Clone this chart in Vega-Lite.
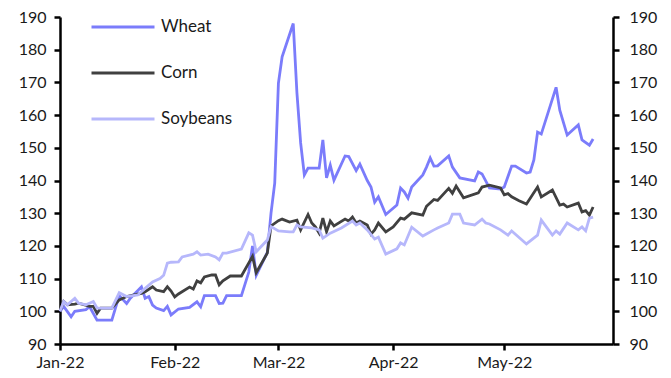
{
  "$schema": "https://vega.github.io/schema/vega-lite/v6.json",
  "width": 553,
  "height": 327,
  "autosize": {"type": "none"},
  "padding": {"left": 60, "top": 17, "right": 58, "bottom": 34},
  "background": "white",
  "view": {"stroke": null},
  "config": {
    "font": "Lato",
    "axis": {"labelFont": "Lato", "labelFontSize": 16, "labelColor": "#1a1a1a", "domainColor": "#000000", "domainWidth": 2.5, "tickColor": "#000000", "tickWidth": 2.5, "grid": false, "title": null}
  },
  "data": {"values": [
    {"d":"2022-01-01","s":"Wheat","v":100},{"d":"2022-01-02","s":"Wheat","v":101.5},{"d":"2022-01-04","s":"Wheat","v":98.3},{"d":"2022-01-05","s":"Wheat","v":100},{"d":"2022-01-08","s":"Wheat","v":100.5},{"d":"2022-01-09","s":"Wheat","v":101.4},{"d":"2022-01-11","s":"Wheat","v":97.3},{"d":"2022-01-15","s":"Wheat","v":97.3},{"d":"2022-01-17","s":"Wheat","v":104.8},{"d":"2022-01-19","s":"Wheat","v":102.4},{"d":"2022-01-20","s":"Wheat","v":104},{"d":"2022-01-23","s":"Wheat","v":107.5},{"d":"2022-01-24","s":"Wheat","v":104},{"d":"2022-01-25","s":"Wheat","v":104.5},{"d":"2022-01-26","s":"Wheat","v":101.9},{"d":"2022-01-27","s":"Wheat","v":101},{"d":"2022-01-29","s":"Wheat","v":100.2},{"d":"2022-01-30","s":"Wheat","v":101.5},{"d":"2022-01-31","s":"Wheat","v":98.9},{"d":"2022-02-02","s":"Wheat","v":100.7},{"d":"2022-02-05","s":"Wheat","v":101.2},{"d":"2022-02-07","s":"Wheat","v":102.9},{"d":"2022-02-08","s":"Wheat","v":101.4},{"d":"2022-02-09","s":"Wheat","v":104.8},{"d":"2022-02-12","s":"Wheat","v":104.8},{"d":"2022-02-13","s":"Wheat","v":102.4},{"d":"2022-02-14","s":"Wheat","v":102.5},{"d":"2022-02-15","s":"Wheat","v":104.8},{"d":"2022-02-19","s":"Wheat","v":104.8},{"d":"2022-02-21","s":"Wheat","v":112},{"d":"2022-02-22","s":"Wheat","v":120},{"d":"2022-02-23","s":"Wheat","v":111},{"d":"2022-02-26","s":"Wheat","v":118},{"d":"2022-02-27","s":"Wheat","v":130},{"d":"2022-02-28","s":"Wheat","v":139.2},{"d":"2022-03-01","s":"Wheat","v":169.8},{"d":"2022-03-02","s":"Wheat","v":177.8},{"d":"2022-03-05","s":"Wheat","v":188},{"d":"2022-03-06","s":"Wheat","v":166.8},{"d":"2022-03-07","s":"Wheat","v":151.5},{"d":"2022-03-08","s":"Wheat","v":141.7},{"d":"2022-03-09","s":"Wheat","v":143.8},{"d":"2022-03-12","s":"Wheat","v":143.8},{"d":"2022-03-13","s":"Wheat","v":152.4},{"d":"2022-03-14","s":"Wheat","v":140.8},{"d":"2022-03-15","s":"Wheat","v":144.7},{"d":"2022-03-16","s":"Wheat","v":140.1},{"d":"2022-03-19","s":"Wheat","v":147.5},{"d":"2022-03-20","s":"Wheat","v":147.3},{"d":"2022-03-22","s":"Wheat","v":143},{"d":"2022-03-23","s":"Wheat","v":145},{"d":"2022-03-25","s":"Wheat","v":140},{"d":"2022-03-26","s":"Wheat","v":138},{"d":"2022-03-27","s":"Wheat","v":133.4},{"d":"2022-03-28","s":"Wheat","v":135},{"d":"2022-03-30","s":"Wheat","v":129.6},{"d":"2022-04-02","s":"Wheat","v":132.5},{"d":"2022-04-03","s":"Wheat","v":137.7},{"d":"2022-04-04","s":"Wheat","v":136.5},{"d":"2022-04-05","s":"Wheat","v":134.6},{"d":"2022-04-06","s":"Wheat","v":138},{"d":"2022-04-09","s":"Wheat","v":141.7},{"d":"2022-04-10","s":"Wheat","v":144.1},{"d":"2022-04-11","s":"Wheat","v":146.9},{"d":"2022-04-12","s":"Wheat","v":144.4},{"d":"2022-04-13","s":"Wheat","v":144.5},{"d":"2022-04-16","s":"Wheat","v":147.5},{"d":"2022-04-17","s":"Wheat","v":144.1},{"d":"2022-04-19","s":"Wheat","v":140.8},{"d":"2022-04-23","s":"Wheat","v":139.9},{"d":"2022-04-24","s":"Wheat","v":142.6},{"d":"2022-04-25","s":"Wheat","v":142},{"d":"2022-04-27","s":"Wheat","v":137.7},{"d":"2022-04-30","s":"Wheat","v":137.4},{"d":"2022-05-01","s":"Wheat","v":138},{"d":"2022-05-03","s":"Wheat","v":144.4},{"d":"2022-05-04","s":"Wheat","v":144.4},{"d":"2022-05-07","s":"Wheat","v":142.3},{"d":"2022-05-08","s":"Wheat","v":142.6},{"d":"2022-05-09","s":"Wheat","v":146.3},{"d":"2022-05-10","s":"Wheat","v":154.8},{"d":"2022-05-11","s":"Wheat","v":154.2},{"d":"2022-05-15","s":"Wheat","v":168.5},{"d":"2022-05-16","s":"Wheat","v":161.5},{"d":"2022-05-18","s":"Wheat","v":153.9},{"d":"2022-05-21","s":"Wheat","v":157},{"d":"2022-05-22","s":"Wheat","v":152.4},{"d":"2022-05-24","s":"Wheat","v":150.8},{"d":"2022-05-25","s":"Wheat","v":152.7},
    {"d":"2022-01-01","s":"Corn","v":100},{"d":"2022-01-02","s":"Corn","v":103},{"d":"2022-01-03","s":"Corn","v":102},{"d":"2022-01-05","s":"Corn","v":102.2},{"d":"2022-01-06","s":"Corn","v":102.5},{"d":"2022-01-09","s":"Corn","v":101.5},{"d":"2022-01-10","s":"Corn","v":101.5},{"d":"2022-01-11","s":"Corn","v":99.4},{"d":"2022-01-12","s":"Corn","v":101},{"d":"2022-01-15","s":"Corn","v":101},{"d":"2022-01-17","s":"Corn","v":103.5},{"d":"2022-01-19","s":"Corn","v":104.5},{"d":"2022-01-21","s":"Corn","v":105},{"d":"2022-01-23","s":"Corn","v":105.5},{"d":"2022-01-24","s":"Corn","v":106},{"d":"2022-01-26","s":"Corn","v":107.5},{"d":"2022-01-27","s":"Corn","v":106.5},{"d":"2022-01-29","s":"Corn","v":106},{"d":"2022-01-30","s":"Corn","v":107.5},{"d":"2022-01-31","s":"Corn","v":106.2},{"d":"2022-02-01","s":"Corn","v":104.4},{"d":"2022-02-02","s":"Corn","v":105.3},{"d":"2022-02-05","s":"Corn","v":107.4},{"d":"2022-02-06","s":"Corn","v":106.8},{"d":"2022-02-07","s":"Corn","v":109.3},{"d":"2022-02-08","s":"Corn","v":108.7},{"d":"2022-02-09","s":"Corn","v":110.5},{"d":"2022-02-11","s":"Corn","v":111.1},{"d":"2022-02-12","s":"Corn","v":111.1},{"d":"2022-02-13","s":"Corn","v":108.1},{"d":"2022-02-14","s":"Corn","v":109.3},{"d":"2022-02-16","s":"Corn","v":110.8},{"d":"2022-02-19","s":"Corn","v":110.8},{"d":"2022-02-21","s":"Corn","v":114.8},{"d":"2022-02-22","s":"Corn","v":116.8},{"d":"2022-02-23","s":"Corn","v":111.8},{"d":"2022-02-26","s":"Corn","v":117.8},{"d":"2022-02-27","s":"Corn","v":126.1},{"d":"2022-03-01","s":"Corn","v":127.7},{"d":"2022-03-02","s":"Corn","v":128.2},{"d":"2022-03-04","s":"Corn","v":127.3},{"d":"2022-03-06","s":"Corn","v":127.9},{"d":"2022-03-07","s":"Corn","v":124.9},{"d":"2022-03-09","s":"Corn","v":129.6},{"d":"2022-03-10","s":"Corn","v":127},{"d":"2022-03-11","s":"Corn","v":125.8},{"d":"2022-03-12","s":"Corn","v":123.9},{"d":"2022-03-13","s":"Corn","v":128.5},{"d":"2022-03-14","s":"Corn","v":124.3},{"d":"2022-03-15","s":"Corn","v":127.6},{"d":"2022-03-16","s":"Corn","v":126.1},{"d":"2022-03-19","s":"Corn","v":128.2},{"d":"2022-03-20","s":"Corn","v":127.6},{"d":"2022-03-21","s":"Corn","v":128.8},{"d":"2022-03-22","s":"Corn","v":127},{"d":"2022-03-23","s":"Corn","v":127.6},{"d":"2022-03-25","s":"Corn","v":126.4},{"d":"2022-03-26","s":"Corn","v":123.6},{"d":"2022-03-27","s":"Corn","v":124.9},{"d":"2022-03-28","s":"Corn","v":127},{"d":"2022-03-30","s":"Corn","v":124.3},{"d":"2022-04-01","s":"Corn","v":125.8},{"d":"2022-04-03","s":"Corn","v":128.5},{"d":"2022-04-04","s":"Corn","v":128.2},{"d":"2022-04-06","s":"Corn","v":130.1},{"d":"2022-04-09","s":"Corn","v":129.4},{"d":"2022-04-10","s":"Corn","v":132.1},{"d":"2022-04-12","s":"Corn","v":134.2},{"d":"2022-04-13","s":"Corn","v":133.9},{"d":"2022-04-16","s":"Corn","v":137.6},{"d":"2022-04-17","s":"Corn","v":136.1},{"d":"2022-04-18","s":"Corn","v":138.3},{"d":"2022-04-20","s":"Corn","v":134.7},{"d":"2022-04-24","s":"Corn","v":136.2},{"d":"2022-04-25","s":"Corn","v":138},{"d":"2022-04-27","s":"Corn","v":138.6},{"d":"2022-04-30","s":"Corn","v":137.7},{"d":"2022-05-01","s":"Corn","v":135.6},{"d":"2022-05-02","s":"Corn","v":136},{"d":"2022-05-03","s":"Corn","v":135},{"d":"2022-05-05","s":"Corn","v":133.8},{"d":"2022-05-07","s":"Corn","v":132.8},{"d":"2022-05-10","s":"Corn","v":138},{"d":"2022-05-11","s":"Corn","v":135},{"d":"2022-05-14","s":"Corn","v":137.1},{"d":"2022-05-16","s":"Corn","v":132.5},{"d":"2022-05-17","s":"Corn","v":132.8},{"d":"2022-05-18","s":"Corn","v":131.9},{"d":"2022-05-21","s":"Corn","v":133.1},{"d":"2022-05-22","s":"Corn","v":130.4},{"d":"2022-05-23","s":"Corn","v":130.8},{"d":"2022-05-24","s":"Corn","v":129.4},{"d":"2022-05-25","s":"Corn","v":131.9},
    {"d":"2022-01-01","s":"Soybeans","v":100},{"d":"2022-01-02","s":"Soybeans","v":103},{"d":"2022-01-03","s":"Soybeans","v":102},{"d":"2022-01-05","s":"Soybeans","v":104},{"d":"2022-01-06","s":"Soybeans","v":102.5},{"d":"2022-01-08","s":"Soybeans","v":102},{"d":"2022-01-10","s":"Soybeans","v":103},{"d":"2022-01-11","s":"Soybeans","v":101},{"d":"2022-01-15","s":"Soybeans","v":101},{"d":"2022-01-17","s":"Soybeans","v":105.7},{"d":"2022-01-19","s":"Soybeans","v":104.5},{"d":"2022-01-22","s":"Soybeans","v":105},{"d":"2022-01-24","s":"Soybeans","v":107},{"d":"2022-01-26","s":"Soybeans","v":109},{"d":"2022-01-28","s":"Soybeans","v":110},{"d":"2022-01-29","s":"Soybeans","v":111},{"d":"2022-01-30","s":"Soybeans","v":114.7},{"d":"2022-01-31","s":"Soybeans","v":115},{"d":"2022-02-02","s":"Soybeans","v":115.1},{"d":"2022-02-03","s":"Soybeans","v":116.6},{"d":"2022-02-06","s":"Soybeans","v":117.5},{"d":"2022-02-07","s":"Soybeans","v":118.2},{"d":"2022-02-08","s":"Soybeans","v":117.2},{"d":"2022-02-10","s":"Soybeans","v":117.5},{"d":"2022-02-12","s":"Soybeans","v":116.6},{"d":"2022-02-13","s":"Soybeans","v":115.7},{"d":"2022-02-14","s":"Soybeans","v":117.8},{"d":"2022-02-15","s":"Soybeans","v":117.8},{"d":"2022-02-19","s":"Soybeans","v":119},{"d":"2022-02-21","s":"Soybeans","v":124},{"d":"2022-02-22","s":"Soybeans","v":123.3},{"d":"2022-02-23","s":"Soybeans","v":118.2},{"d":"2022-02-26","s":"Soybeans","v":121.8},{"d":"2022-02-27","s":"Soybeans","v":125.9},{"d":"2022-03-01","s":"Soybeans","v":124.6},{"d":"2022-03-04","s":"Soybeans","v":124.3},{"d":"2022-03-05","s":"Soybeans","v":124.3},{"d":"2022-03-06","s":"Soybeans","v":126.4},{"d":"2022-03-07","s":"Soybeans","v":125.8},{"d":"2022-03-10","s":"Soybeans","v":125.5},{"d":"2022-03-12","s":"Soybeans","v":124.9},{"d":"2022-03-13","s":"Soybeans","v":122.4},{"d":"2022-03-15","s":"Soybeans","v":123.9},{"d":"2022-03-18","s":"Soybeans","v":125.5},{"d":"2022-03-21","s":"Soybeans","v":127.6},{"d":"2022-03-22","s":"Soybeans","v":126.4},{"d":"2022-03-23","s":"Soybeans","v":127},{"d":"2022-03-25","s":"Soybeans","v":124.9},{"d":"2022-03-27","s":"Soybeans","v":122.1},{"d":"2022-03-28","s":"Soybeans","v":122.7},{"d":"2022-03-30","s":"Soybeans","v":117.5},{"d":"2022-04-02","s":"Soybeans","v":119.1},{"d":"2022-04-03","s":"Soybeans","v":120.9},{"d":"2022-04-04","s":"Soybeans","v":120.3},{"d":"2022-04-06","s":"Soybeans","v":125.7},{"d":"2022-04-09","s":"Soybeans","v":123},{"d":"2022-04-12","s":"Soybeans","v":124.9},{"d":"2022-04-13","s":"Soybeans","v":125.5},{"d":"2022-04-16","s":"Soybeans","v":127},{"d":"2022-04-17","s":"Soybeans","v":129.7},{"d":"2022-04-19","s":"Soybeans","v":129.7},{"d":"2022-04-20","s":"Soybeans","v":127},{"d":"2022-04-23","s":"Soybeans","v":126.4},{"d":"2022-04-25","s":"Soybeans","v":128.2},{"d":"2022-04-26","s":"Soybeans","v":127},{"d":"2022-04-27","s":"Soybeans","v":126.7},{"d":"2022-04-30","s":"Soybeans","v":124.9},{"d":"2022-05-02","s":"Soybeans","v":123.3},{"d":"2022-05-03","s":"Soybeans","v":124.6},{"d":"2022-05-07","s":"Soybeans","v":120.6},{"d":"2022-05-10","s":"Soybeans","v":123.3},{"d":"2022-05-11","s":"Soybeans","v":127.9},{"d":"2022-05-14","s":"Soybeans","v":123.3},{"d":"2022-05-15","s":"Soybeans","v":124.6},{"d":"2022-05-16","s":"Soybeans","v":123.6},{"d":"2022-05-18","s":"Soybeans","v":127},{"d":"2022-05-21","s":"Soybeans","v":124.9},{"d":"2022-05-22","s":"Soybeans","v":125.8},{"d":"2022-05-23","s":"Soybeans","v":124.6},{"d":"2022-05-24","s":"Soybeans","v":128.5},{"d":"2022-05-25","s":"Soybeans","v":128.8}
  ]},
  "encoding": {
    "x": {
      "field": "d", "type": "temporal",
      "scale": {"type": "utc", "domain": [{"year": 2022, "month": 1, "date": 1, "utc": true}, {"year": 2022, "month": 5, "date": 30, "hours": 9, "utc": true}]},
      "axis": {
        "format": "%b-%y", "labelPadding": 4, "tickSize": 6, "labelFontSize": 16,
        "values": [{"year": 2022, "month": 1, "date": 1, "utc": true}, {"year": 2022, "month": 2, "date": 1, "utc": true}, {"year": 2022, "month": 3, "date": 1, "utc": true}, {"year": 2022, "month": 4, "date": 1, "utc": true}, {"year": 2022, "month": 5, "date": 1, "utc": true}],
        "labelFlush": false, "labelOverlap": false
      }
    }
  },
  "layer": [
    {
      "mark": {"type": "line", "strokeWidth": 0, "strokeOpacity": 0},
      "encoding": {
        "y": {"field": "v", "type": "quantitative", "scale": {"domain": [90, 190], "nice": false, "zero": false},
              "axis": {"orient": "right", "values": [90,100,110,120,130,140,150,160,170,180,190], "tickSize": 6, "labelPadding": 10}},
        "detail": {"field": "s"}
      }
    },
    {
      "mark": {"type": "line", "strokeWidth": 2.8, "interpolate": "linear"},
      "encoding": {
        "y": {"field": "v", "type": "quantitative", "scale": {"domain": [90, 190], "nice": false, "zero": false},
              "axis": {"orient": "left", "values": [90,100,110,120,130,140,150,160,170,180,190], "tickSize": 6, "labelPadding": 8}},
        "color": {
          "field": "s", "type": "nominal",
          "scale": {"domain": ["Wheat", "Corn", "Soybeans"], "range": ["#7b7cfb", "#404040", "#b6b7fb"]},
          "legend": {
            "title": null, "orient": "none", "legendX": 30, "legendY": -23,
            "symbolType": "stroke", "symbolSize": 3969, "symbolStrokeWidth": 3,
            "labelFont": "Lato", "labelFontSize": 17, "labelColor": "#1a1a1a", "labelOffset": 5,
            "rowPadding": 5
          }
        },
        "order": {"field": "s", "sort": "descending"}
      }
    }
  ],
  "resolve": {"axis": {"y": "independent"}}
}
